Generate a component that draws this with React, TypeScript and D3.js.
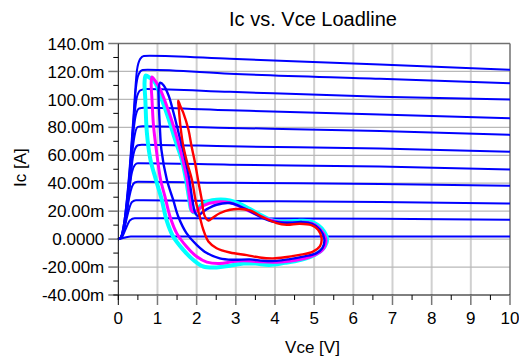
import React from "react";
import * as d3 from "d3";

// Output characteristics: [Vce (V), Ic (mA)] for each base-current step
const ivCurve1 = [[0, 0], [0.06, 1], [0.15, 12], [0.265, 42.6], [0.38, 85], [0.477, 121], [0.56, 129], [0.65, 131], [0.8, 131.2], [2.85, 129], [6.68, 125], [10, 121.2]];
const ivCurve2 = [[0, 0], [0.06, 1], [0.15, 12], [0.27, 42], [0.38, 82], [0.45, 108], [0.52, 118], [0.62, 121], [0.75, 121.2], [2.85, 118.3], [6.68, 114.7], [10, 111.6]];
const ivCurve3 = [[0, 0], [0.06, 1], [0.16, 12], [0.28, 42], [0.4, 85], [0.47, 101], [0.56, 106.5], [0.7, 107.5], [2.85, 105.4], [6.68, 101.8], [10, 99.9]];
const ivCurve4 = [[0, 0], [0.06, 1], [0.17, 12], [0.29, 42], [0.38, 75], [0.45, 89], [0.53, 93.5], [0.65, 94], [2.85, 92.2], [6.68, 89.1], [10, 86.5]];
const ivCurve5 = [[0, 0], [0.06, 1], [0.17, 12], [0.3, 42], [0.37, 65], [0.43, 76], [0.5, 80.3], [0.62, 80.8], [2.85, 79.6], [6.68, 77.4], [10, 74.6]];
const ivCurve6 = [[0, 0], [0.06, 1], [0.18, 12], [0.3, 40], [0.36, 56], [0.42, 64], [0.5, 67.2], [0.6, 67.6], [2.85, 66.4], [6.68, 64.8], [10, 62.6]];
const ivCurve7 = [[0, 0], [0.07, 1], [0.19, 14], [0.29, 38], [0.35, 48], [0.42, 53], [0.5, 54.3], [2.85, 53.3], [6.68, 51.9], [10, 49.9]];
const ivCurve8 = [[0, 0], [0.07, 1], [0.2, 16], [0.28, 30], [0.35, 37.5], [0.42, 40.5], [0.5, 41], [2.85, 40.3], [6.68, 39.4], [10, 38.2]];
const ivCurve9 = [[0, 0], [0.08, 1], [0.2, 13], [0.28, 22], [0.35, 26.5], [0.45, 27.8], [2.85, 27.3], [6.68, 26.5], [10, 25.5]];
const ivCurve10 = [[0, 0], [0.08, 1], [0.2, 8], [0.3, 13.5], [0.42, 15], [2.85, 14.8], [6.68, 14.6], [10, 13.8]];
const ivCurve11 = [[0, 0], [0.1, 0.6], [0.2, 1.4], [0.32, 1.9], [10, 1.9]];

const ivCurves = [ivCurve1, ivCurve2, ivCurve3, ivCurve4, ivCurve5, ivCurve6, ivCurve7, ivCurve8, ivCurve9, ivCurve10, ivCurve11];

// Dynamic load-line trajectories (closed loops), [Vce (V), Ic (mA)]
const cyanLoop = [[0.70, 117], [0.80, 115.5], [0.94, 111.9], [1.11, 99.9], [1.29, 85.6], [1.45, 71.2], [1.62, 56.9], [1.73, 42.5], [1.80, 30.6], [1.87, 20.5], [1.95, 19], [2.17, 25.8], [2.51, 28.2], [2.85, 27.7], [3.10, 25.3], [3.36, 21.5], [3.61, 17.6], [3.87, 14], [4.12, 12.5], [4.38, 12.6], [4.63, 13.2], [4.89, 12.8], [5.1, 10], [5.25, 5.5], [5.33, 0], [5.24, -6.5], [5.0, -11.5], [4.64, -15], [4.25, -17], [3.85, -18.5], [3.5, -17.5], [3.2, -17.5], [2.85, -19], [2.51, -20.3], [2.17, -19.6], [1.91, -14.8], [1.66, -7.7], [1.40, 1.9], [1.23, 13.8], [1.11, 28.2], [0.96, 42.5], [0.82, 56.9], [0.73, 76], [0.69, 99.9], [0.67, 112]];
const magentaLoop = [[0.86, 116], [0.95, 113], [1.07, 107.1], [1.24, 95.1], [1.41, 80.8], [1.58, 64.1], [1.74, 45], [1.82, 30], [1.88, 20], [1.96, 19.5], [2.17, 24], [2.51, 26.5], [2.85, 26], [3.10, 23.5], [3.36, 19.8], [3.70, 15.5], [4.04, 12.5], [4.38, 11.5], [4.72, 12], [5.0, 10.5], [5.2, 5.5], [5.30, -0.5], [5.22, -7.5], [5.0, -11.5], [4.72, -14.1], [4.04, -16.5], [3.5, -16], [3.2, -15.5], [2.93, -16], [2.59, -17.5], [2.26, -16.5], [2.0, -12.5], [1.74, -5.3], [1.49, 4.3], [1.32, 16.2], [1.19, 30.6], [1.08, 42.5], [0.97, 64.1], [0.90, 80.8], [0.86, 99.9], [0.84, 112]];
const blueLoop = [[1.07, 111.9], [1.16, 110], [1.29, 102.3], [1.41, 90.4], [1.54, 76], [1.67, 61.7], [1.80, 45], [1.88, 30], [1.96, 19], [2.03, 16.5], [2.17, 19.8], [2.51, 24.6], [2.85, 25.8], [3.10, 23.5], [3.36, 20], [3.65, 15.6], [3.95, 12.6], [4.38, 11.7], [4.68, 12.2], [4.95, 11], [5.15, 6.7], [5.26, 0], [5.21, -6.5], [5.06, -10], [4.72, -12.5], [4.38, -14.3], [4.04, -15.6], [3.70, -15.5], [3.36, -14.5], [2.93, -14.8], [2.59, -13.8], [2.26, -10], [2.0, -4.1], [1.74, 4.3], [1.53, 16.2], [1.40, 28.2], [1.24, 42.5], [1.10, 64.1], [1.06, 80.8], [1.03, 99.9], [1.03, 108]];
const redLoop = [[1.53, 99], [1.58, 95.5], [1.66, 90.4], [1.79, 78.4], [1.87, 66.4], [1.96, 54.5], [2.05, 40.2], [2.13, 28.2], [2.20, 17], [2.30, 13.3], [2.42, 15.5], [2.59, 18.5], [2.85, 21], [3.10, 21.5], [3.36, 20.5], [3.70, 15.5], [4.04, 11.5], [4.30, 10.3], [4.63, 11], [4.93, 10], [5.10, 6.7], [5.19, 0.7], [5.15, -5], [4.97, -8.9], [4.63, -11.3], [4.30, -12.8], [3.95, -13.8], [3.61, -13.2], [3.28, -11.5], [2.85, -9.6], [2.51, -6.5], [2.30, -1.7], [2.17, 6.7], [2.08, 16], [1.97, 28.2], [1.88, 42.5], [1.76, 54.5], [1.66, 66.4], [1.59, 80], [1.54, 95]];

const loops = [
  { pts: cyanLoop, color: "#00ffff", width: 4 },
  { pts: magentaLoop, color: "#ff00ff", width: 3 },
  { pts: blueLoop, color: "#0000ff", width: 2.4 },
  { pts: redLoop, color: "#ff0000", width: 2.4 },
];

// Axis ticks and labels
const vceTicks = [0, 1, 2, 3, 4, 5, 6, 7, 8, 9, 10];
const vceMinor = [0.5, 1.5, 2.5, 3.5, 4.5, 5.5, 6.5, 7.5, 8.5, 9.5];
const icTicks = [-40, -20, 0, 20, 40, 60, 80, 100, 120, 140];
const icTickLabels = ["-40.00m", "-20.00m", "0.0000", "20.00m", "40.00m", "60.00m", "80.00m", "100.0m", "120.0m", "140.0m"];
const icMinor = [-30, -10, 10, 30, 50, 70, 90, 110, 130];

const W = 519;
const H = 361;
const X0 = 118.3, X1 = 510, Y0 = 295, Y1 = 43.5;
const FONT = "'Liberation Sans', Arial, Helvetica, sans-serif";

export default function App() {
  const x = d3.scaleLinear().domain([0, 10]).range([X0, X1]);
  const y = d3.scaleLinear().domain([-40, 140]).range([Y0, Y1]);

  const ivLine = d3
    .line<number[]>()
    .x((d) => x(d[0]))
    .y((d) => y(d[1]))
    .curve(d3.curveMonotoneX);

  const loopLine = d3
    .line<number[]>()
    .x((d) => x(d[0]))
    .y((d) => y(d[1]))
    .curve(d3.curveCatmullRomClosed.alpha(0.5));

  return (
    <svg
      width={W}
      height={H}
      style={{ position: "absolute", left: 0, top: 0, background: "#fff" }}
      fontFamily={FONT}
    >
      <rect x={0} y={0} width={W} height={H} fill="#fff" />
      {/* grid */}
      {vceTicks.slice(1, -1).map((v) => (
        <line key={"gx" + v} x1={x(v)} x2={x(v)} y1={Y1} y2={Y0} stroke="#d0d0d0" strokeWidth={2} />
      ))}
      {icTicks.slice(1, -1).map((v) => (
        <line key={"gy" + v} x1={X0} x2={X1} y1={y(v)} y2={y(v)} stroke="#b8b8b8" strokeWidth={1.2} />
      ))}
      {/* frame top/right */}
      <line x1={X0} x2={X1} y1={Y1} y2={Y1} stroke="#707070" strokeWidth={1.5} />
      <line x1={X1} x2={X1} y1={Y1} y2={Y0} stroke="#707070" strokeWidth={1.5} />

      <clipPath id="plot">
        <rect x={X0 - 2} y={Y1} width={X1 - X0 + 2} height={Y0 - Y1} />
      </clipPath>
      <g clipPath="url(#plot)" fill="none" strokeLinejoin="round" strokeLinecap="round">
        {ivCurves.map((c, i) => (
          <path key={"iv" + i} d={ivLine(c) || ""} stroke="#0000ff" strokeWidth={2} />
        ))}
        {loops.map((l, i) => (
          <path key={"lp" + i} d={loopLine(l.pts) || ""} stroke={l.color} strokeWidth={l.width} />
        ))}
      </g>

      {/* left axis */}
      <line x1={X0} x2={X0} y1={Y1} y2={Y0 + 5} stroke="#000" strokeWidth={1} />
      {icTicks.map((v) => (
        <line key={"ty" + v} x1={X0 - 10} x2={X0} y1={y(v)} y2={y(v)} stroke="#777" strokeWidth={1.5} />
      ))}
      {icMinor.map((v) => (
        <line key={"mty" + v} x1={X0 - 5} x2={X0} y1={y(v)} y2={y(v)} stroke="#000" strokeWidth={1} />
      ))}
      {icTicks.map((v, i) => (
        <text key={"ly" + v} x={X0 - 14} y={y(v)} dy="0.36em" textAnchor="end" fontSize={17} fill="#000">
          {icTickLabels[i]}
        </text>
      ))}

      {/* bottom axis */}
      <line x1={X0 - 5} x2={X1} y1={Y0} y2={Y0} stroke="#000" strokeWidth={1} />
      {vceTicks.map((v) => (
        <line key={"tx" + v} x1={x(v)} x2={x(v)} y1={Y0} y2={Y0 + 10} stroke={v === 0 ? "#000" : "#777"} strokeWidth={v === 0 ? 1 : 1.5} />
      ))}
      {vceMinor.map((v) => (
        <line key={"mtx" + v} x1={x(v)} x2={x(v)} y1={Y0} y2={Y0 + 5} stroke="#000" strokeWidth={1} />
      ))}
      {vceTicks.map((v) => (
        <text key={"lx" + v} x={x(v)} y={323.5} textAnchor="middle" fontSize={17} fill="#000">
          {v}
        </text>
      ))}

      {/* titles */}
      <text x={313} y={26} textAnchor="middle" fontSize={20} fill="#000">
        Ic vs. Vce Loadline
      </text>
      <text x={312.5} y={353} textAnchor="middle" fontSize={17} fill="#000">
        Vce [V]
      </text>
      <text transform="translate(26,167.6) rotate(-90)" textAnchor="middle" fontSize={17} fill="#000">
        Ic [A]
      </text>
    </svg>
  );
}
